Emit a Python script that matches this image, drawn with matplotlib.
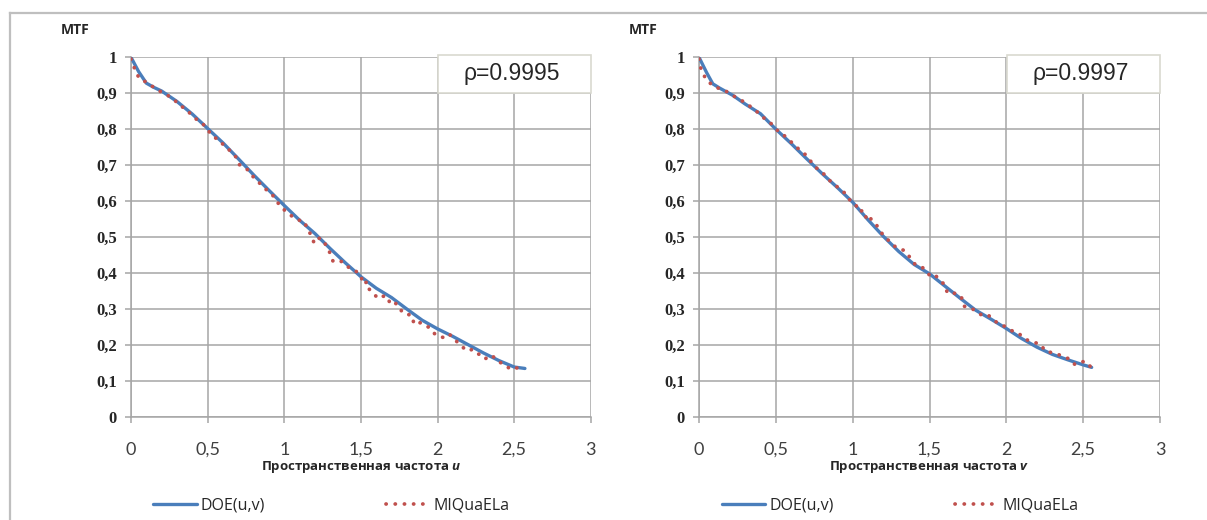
#!/usr/bin/env python3
"""MTF comparison: DOE(u,v) vs MIQuaELa along u and v."""
import matplotlib
matplotlib.use('Agg')
import matplotlib.pyplot as plt
import matplotlib.ticker as mticker
from matplotlib.lines import Line2D
from matplotlib.patches import Rectangle

# ---- data ----
u_doe = [0, 0.05, 0.1, 0.15, 0.2, 0.3, 0.4, 0.5, 0.6, 0.7, 0.8, 0.9, 1.0, 1.1, 1.2,
         1.3, 1.4, 1.5, 1.6, 1.7, 1.8, 1.9, 2.0, 2.1, 2.2, 2.3, 2.4, 2.5, 2.57]
mtf_u_doe = [1.0, 0.96, 0.928, 0.916, 0.906, 0.877, 0.842, 0.802, 0.762, 0.718, 0.673,
             0.63, 0.588, 0.547, 0.51, 0.468, 0.428, 0.39, 0.358, 0.332, 0.3, 0.269,
             0.245, 0.224, 0.201, 0.178, 0.157, 0.139, 0.135]

u_miq = [0.0, 0.015, 0.03, 0.059, 0.109, 0.152, 0.195, 0.239, 0.282, 0.319, 0.358,
         0.395, 0.434, 0.478, 0.508, 0.536, 0.58, 0.612, 0.651, 0.684, 0.704, 0.738,
         0.764, 0.797, 0.83, 0.868, 0.90, 0.934, 0.97, 1.014, 1.057, 1.097, 1.134,
         1.149, 1.177, 1.194, 1.22, 1.257, 1.275, 1.30, 1.318, 1.357, 1.394, 1.427,
         1.466, 1.50, 1.515, 1.54, 1.555, 1.58, 1.61, 1.64, 1.676, 1.69, 1.72, 1.75,
         1.77, 1.81, 1.835, 1.846, 1.885, 1.905, 1.94, 1.98, 2.0, 2.04, 2.06, 2.08,
         2.12, 2.15, 2.19, 2.23, 2.26, 2.28, 2.31, 2.34, 2.37, 2.40, 2.44, 2.48,
         2.53, 2.55]
mtf_u_miq = [0.995, 0.98, 0.959, 0.939, 0.929, 0.915, 0.904, 0.894, 0.882, 0.865, 0.857,
             0.839, 0.825, 0.811, 0.794, 0.779, 0.769, 0.751, 0.739, 0.723, 0.702, 0.695,
             0.686, 0.668, 0.654, 0.637, 0.626, 0.612, 0.588, 0.570, 0.556, 0.547, 0.543,
             0.521, 0.506, 0.484, 0.498, 0.492, 0.473, 0.455, 0.433, 0.436, 0.427, 0.413,
             0.406, 0.392, 0.369, 0.376, 0.355, 0.345, 0.33, 0.336, 0.334, 0.314, 0.318,
             0.308, 0.29, 0.285, 0.281, 0.258, 0.262, 0.26, 0.25, 0.232, 0.225, 0.221,
             0.23, 0.229, 0.212, 0.2, 0.184, 0.188, 0.177, 0.172, 0.161, 0.172, 0.166,
             0.154, 0.144, 0.132, 0.138, 0.136]

v_doe = [0, 0.05, 0.09, 0.135, 0.22, 0.3, 0.4, 0.5, 0.6, 0.7, 0.8, 0.9, 1.0, 1.1, 1.2,
         1.3, 1.4, 1.5, 1.6, 1.7, 1.8, 1.9, 2.0, 2.1, 2.2, 2.3, 2.4, 2.5, 2.555]
mtf_v_doe = [1.0, 0.957, 0.926, 0.914, 0.894, 0.87, 0.843, 0.80, 0.76, 0.718, 0.677,
             0.638, 0.597, 0.548, 0.502, 0.46, 0.424, 0.398, 0.364, 0.33, 0.297, 0.272,
             0.246, 0.218, 0.194, 0.174, 0.159, 0.145, 0.138]

v_miq = [0.0, 0.004, 0.022, 0.048, 0.087, 0.135, 0.178, 0.226, 0.276, 0.32, 0.358,
         0.402, 0.435, 0.478, 0.515, 0.548, 0.587, 0.624, 0.656, 0.70, 0.732, 0.765,
         0.804, 0.834, 0.874, 0.913, 0.95, 0.982, 1.02, 1.043, 1.069, 1.087, 1.10,
         1.124, 1.156, 1.182, 1.217, 1.247, 1.282, 1.312, 1.345, 1.373, 1.405, 1.449,
         1.486, 1.514, 1.542, 1.564, 1.60, 1.616, 1.644, 1.672, 1.709, 1.724, 1.759,
         1.802, 1.846, 1.883, 1.915, 1.958, 1.997, 2.035, 2.078, 2.11, 2.15, 2.193,
         2.225, 2.25, 2.295, 2.338, 2.375, 2.41, 2.446, 2.496, 2.533, 2.555]
mtf_v_miq = [0.995, 0.98, 0.957, 0.938, 0.922, 0.912, 0.905, 0.892, 0.88, 0.868, 0.854,
             0.841, 0.825, 0.813, 0.794, 0.785, 0.769, 0.756, 0.741, 0.727, 0.708, 0.692,
             0.68, 0.663, 0.649, 0.635, 0.622, 0.603, 0.59, 0.57, 0.575, 0.555, 0.563,
             0.547, 0.533, 0.515, 0.496, 0.487, 0.471, 0.467, 0.461, 0.443, 0.425, 0.418,
             0.401, 0.388, 0.392, 0.382, 0.367, 0.345, 0.342, 0.345, 0.331, 0.308, 0.305,
             0.295, 0.281, 0.283, 0.27, 0.257, 0.251, 0.24, 0.234, 0.22, 0.211, 0.206,
             0.202, 0.184, 0.179, 0.174, 0.166, 0.162, 0.146, 0.154, 0.151, 0.132]

rho_values = ['ρ=0.9995', 'ρ=0.9997']
axis_vars = ['u', 'v']
x_ticks = [0, 0.5, 1, 1.5, 2, 2.5, 3]
y_ticks = [0, 0.1, 0.2, 0.3, 0.4, 0.5, 0.6, 0.7, 0.8, 0.9, 1.0]

BLUE = '#4A7EBB'
RED = '#C0504D'
GRID = '#A6A6A6'
TXT = '#262626'

plt.rcParams['mathtext.fontset'] = 'custom'
plt.rcParams['mathtext.it'] = 'Open Sans:italic:bold'


def comma_fmt(v, _pos):
    if abs(v - round(v)) < 1e-9:
        return f'{int(round(v))}'
    return f'{v:.1f}'.replace('.', ',')


def draw_panel(ax, xd, yd, xm, ym, rho, var):
    ax.set_xlim(0, 3)
    ax.set_ylim(0, 1)
    ax.set_xticks(x_ticks)
    ax.set_yticks(y_ticks)
    ax.xaxis.set_major_formatter(mticker.FuncFormatter(comma_fmt))
    ax.yaxis.set_major_formatter(mticker.FuncFormatter(comma_fmt))
    ax.grid(True, color=GRID, lw=1.1)
    ax.set_axisbelow(True)
    for s in ('top', 'right'):
        ax.spines[s].set_visible(False)
    for s in ('left', 'bottom'):
        ax.spines[s].set_color(GRID)
        ax.spines[s].set_linewidth(1.1)
    ax.tick_params(axis='both', direction='out', length=4, width=1.1, color=GRID)
    ax.tick_params(axis='x', pad=14, labelsize=13, labelcolor='#404040')
    ax.tick_params(axis='y', pad=6)
    for lab in ax.get_xticklabels():
        lab.set_family(['Lato', 'DejaVu Sans'])
    for lab in ax.get_yticklabels():
        lab.set_family('Liberation Serif')
        lab.set_fontweight('bold')
        lab.set_fontsize(12)
        lab.set_color(TXT)

    ax.plot(xd, yd, color=BLUE, lw=2.4, solid_capstyle='round', zorder=3,
            label='DOE(u,v)')
    ax.plot(xm, ym, color=RED, lw=2.7, ls=(0, (0.05, 2.4)),
            dash_capstyle='round', zorder=4, label='MIQuaELa')

    ax.add_patch(Rectangle((0.667, 0.9), 0.333, 0.105, transform=ax.transAxes,
                           facecolor='white', edgecolor='#D9D9D0', lw=1.2,
                           zorder=5, clip_on=False))
    ax.text(0.828, 0.955, rho, transform=ax.transAxes, ha='center', va='center',
            fontsize=16.5, family='Liberation Sans', color=TXT, zorder=6)

    ax.text(-0.122, 1.075, 'MTF', transform=ax.transAxes, ha='center',
            va='center', fontsize=10, fontweight='bold', family='Open Sans',
            color=TXT)
    ax.set_xlabel(f'Пространственная частота ${var}$', fontsize=9.5,
                  fontweight='bold', family='Open Sans', color=TXT, labelpad=1)

    leg = ax.legend(loc='center', bbox_to_anchor=(0.436, -0.247), ncol=2,
                    frameon=False, handlelength=2.7, handletextpad=0.25,
                    columnspacing=7.6, prop={'family': 'Open Sans', 'size': 11.5})
    for t in leg.get_texts():
        t.set_color(TXT)


def main():
    fig = plt.figure(figsize=(12.07, 5.2), dpi=100)
    ax1 = fig.add_axes([0.1085, 0.198, 0.381, 0.692])
    ax2 = fig.add_axes([0.5791, 0.198, 0.382, 0.692])

    draw_panel(ax1, u_doe, mtf_u_doe, u_miq, mtf_u_miq, rho_values[0], axis_vars[0])
    draw_panel(ax2, v_doe, mtf_v_doe, v_miq, mtf_v_miq, rho_values[1], axis_vars[1])

    # outer chart frame (top and left edges visible)
    fx = 10 / 1207
    fy = 1 - 13 / 520
    fig.add_artist(Line2D([fx, 1.0], [fy, fy], transform=fig.transFigure,
                          color='#BFBFBF', lw=1.6))
    fig.add_artist(Line2D([fx, fx], [0.0, fy], transform=fig.transFigure,
                          color='#BFBFBF', lw=1.6))

    fig.savefig('out.png', dpi=100)
    plt.close(fig)


if __name__ == '__main__':
    main()
